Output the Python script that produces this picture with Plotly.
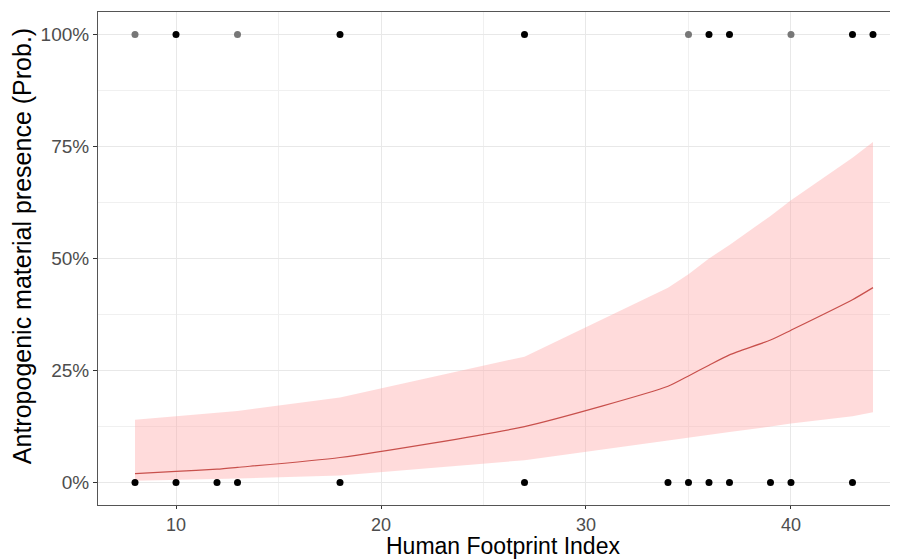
import plotly.graph_objects as go

# ---- data ----
fit_x = [8, 10, 12, 13, 18, 27, 34, 35, 36, 37, 39, 40, 43, 44]
fit_y = [0.020, 0.025, 0.030, 0.034, 0.056, 0.125, 0.215, 0.238, 0.262, 0.285, 0.318, 0.340, 0.408, 0.435]
ci_upper = [0.140, 0.148, 0.156, 0.160, 0.190, 0.281, 0.435, 0.465, 0.500, 0.530, 0.595, 0.630, 0.725, 0.760]
ci_lower = [0.004, 0.006, 0.008, 0.009, 0.016, 0.050, 0.094, 0.100, 0.107, 0.113, 0.125, 0.132, 0.148, 0.157]

top_black_x = [10, 18, 27, 36, 37, 43, 44]
top_gray_x = [8, 13, 35, 40]
bottom_x = [8, 10, 12, 13, 18, 27, 34, 35, 36, 37, 39, 40, 43]

y_ticks = [0, 0.25, 0.5, 0.75, 1.0]
y_tick_labels = ["0%", "25%", "50%", "75%", "100%"]
x_ticks = [10, 20, 30, 40]

fig = go.Figure()

fig.add_trace(go.Scatter(
    x=fit_x + fit_x[::-1],
    y=ci_upper + ci_lower[::-1],
    fill="toself", fillcolor="rgba(255,160,160,0.38)",
    line=dict(width=0), mode="lines", hoverinfo="skip", showlegend=False))

fig.add_trace(go.Scatter(
    x=fit_x, y=fit_y, mode="lines", line_shape="spline",
    line=dict(color="#c8504c", width=1.2, smoothing=0.6), showlegend=False))

fig.add_trace(go.Scatter(
    x=top_gray_x, y=[1] * len(top_gray_x), mode="markers",
    marker=dict(color="#777777", size=7), showlegend=False))
fig.add_trace(go.Scatter(
    x=top_black_x, y=[1] * len(top_black_x), mode="markers",
    marker=dict(color="#000000", size=7), showlegend=False))
fig.add_trace(go.Scatter(
    x=bottom_x, y=[0] * len(bottom_x), mode="markers",
    marker=dict(color="#000000", size=7), showlegend=False))

font_family = "Liberation Sans, Arial, sans-serif"

# the page body has an 8px margin, so the figure starts at (8, 8)
fig.update_layout(
    width=890, height=552,
    margin=dict(l=90, r=0, t=4, b=55),
    paper_bgcolor="white", plot_bgcolor="white",
    font=dict(family=font_family),
    xaxis=dict(
        range=[6.195, 45.22], tickvals=x_ticks,
        showgrid=True, gridcolor="#e8e8e8", gridwidth=1,
        minor=dict(dtick=5, tick0=0, showgrid=True, gridcolor="#f0f0f0", gridwidth=1),
        ticks="outside", ticklen=3, tickcolor="#333333",
        tickfont=dict(size=18, color="#4d4d4d"),
        showline=True, linecolor="#555555", linewidth=1, mirror=True,
        zeroline=False),
    yaxis=dict(
        range=[-0.05, 1.05], tickvals=y_ticks, ticktext=y_tick_labels,
        showgrid=True, gridcolor="#e8e8e8", gridwidth=1,
        minor=dict(dtick=0.125, tick0=0, showgrid=True, gridcolor="#f0f0f0", gridwidth=1),
        ticks="outside", ticklen=4, tickcolor="#333333",
        tickfont=dict(size=19, color="#4d4d4d"),
        showline=True, linecolor="#555555", linewidth=1, mirror=False,
        zeroline=False),
    annotations=[
        dict(text="Human Footprint Index", xref="paper", yref="paper",
             x=0.506, y=0.0, yshift=-41, xanchor="center", yanchor="middle",
             showarrow=False, font=dict(size=23, color="#000000")),
        dict(text="Antropogenic material presence (Prob.)", xref="paper", yref="paper",
             x=0.0, xshift=-76, y=0.525, textangle=-90, xanchor="center", yanchor="middle",
             showarrow=False, font=dict(size=25, color="#000000")),
    ],
)

fig.write_html("out.html")
